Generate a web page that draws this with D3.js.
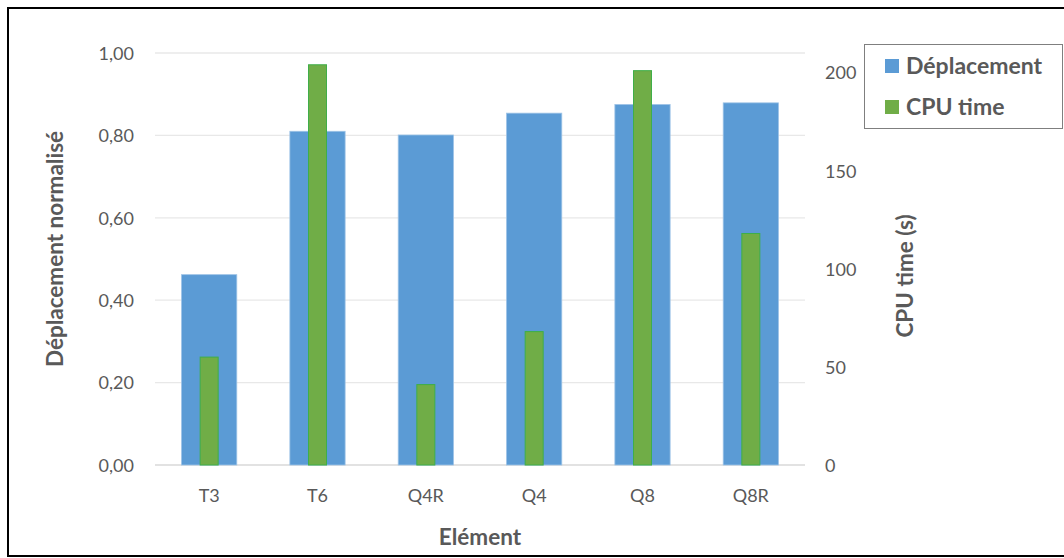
<!DOCTYPE html>
<html><head><meta charset="utf-8">
<script src="https://cdn.jsdelivr.net/npm/d3@7"></script>
<style>body{margin:0;background:#fff}text{font-family:Lato,"Open Sans",sans-serif}</style>
</head><body><svg id="c" width="1064" height="558"></svg>
<script>
const categories = ["T3","T6","Q4R","Q4","Q8","Q8R"];
const deplacement = [0.462, 0.810, 0.801, 0.854, 0.875, 0.879];
const cpuTime = [55, 204, 41, 68, 201, 118];
const leftTicks = [0,0.2,0.4,0.6,0.8,1.0];
const rightTicks = [0,50,100,150,200];
const seriesNames = ["Déplacement","CPU time"];

const svg = d3.select("#c");
const L=155, R=805, T=53, B=465;
svg.append("rect").attr("x",8).attr("y",8).attr("width",1062).attr("height",548).attr("fill","#fff").attr("stroke","#000").attr("stroke-width",2);

const x = d3.scaleBand().domain(categories).range([L,R]).paddingInner(0.49).paddingOuter(0.245);
const yL = d3.scaleLinear().domain([0,1]).range([B,T]);
const yR = d3.scaleLinear().domain([0,210]).range([B,T]);
const fmt = d=>d3.format(".2f")(d).replace(".",",");

// grid
svg.append("g").selectAll("line").data(leftTicks).join("line")
 .attr("x1",L).attr("x2",R).attr("y1",d=>yL(d)).attr("y2",d=>yL(d))
 .attr("stroke",d=>d===0?"#d9d9d9":"#e8e8e8").attr("stroke-width",1.3);

// left axis
const ga = svg.append("g").attr("transform",`translate(${L-21},0)`)
 .call(d3.axisLeft(yL).tickValues(leftTicks).tickFormat(fmt).tickSize(0).tickPadding(0));
ga.select(".domain").remove();
ga.selectAll("text").attr("fill","#595959").style("font-size","18px").attr("dy","0.35em");

const gr = svg.append("g").attr("transform",`translate(${R+20},0)`)
 .call(d3.axisRight(yR).tickValues(rightTicks).tickSize(0).tickPadding(0));
gr.select(".domain").remove();
gr.selectAll("text").attr("fill","#595959").style("font-size","18px").attr("dy","0.35em");

const gx = svg.append("g").attr("transform",`translate(0,${B+24})`)
 .call(d3.axisBottom(x).tickSize(0).tickPadding(0));
gx.select(".domain").remove();
gx.selectAll("text").attr("fill","#595959").style("font-size","18px").attr("dy","0.71em");

// bars
svg.append("g").selectAll("rect").data(deplacement).join("rect")
 .attr("x",(d,i)=>x(categories[i])).attr("width",x.bandwidth())
 .attr("y",d=>yL(d)).attr("height",d=>B-yL(d))
 .attr("fill","#5b9bd5").attr("stroke","#9dc3e6").attr("stroke-width",0.8);
const gw = 18;
svg.append("g").selectAll("rect").data(cpuTime).join("rect")
 .attr("x",(d,i)=>x(categories[i])+x.bandwidth()/2-gw/2).attr("width",gw)
 .attr("y",d=>yR(d)).attr("height",d=>B-yR(d))
 .attr("fill","#70ad47").attr("stroke","#3fae49").attr("stroke-width",1);

// axis titles
svg.append("text").attr("transform",`translate(55,249) rotate(-90)`).attr("text-anchor","middle").attr("dy","0.35em")
 .attr("fill","#595959").style("font-size","22.5px").style("font-weight","bold").text("Déplacement normalisé");
svg.append("text").attr("transform",`translate(905,276) rotate(-90)`).attr("text-anchor","middle").attr("dy","0.35em")
 .attr("fill","#595959").style("font-size","22.5px").style("font-weight","bold").text("CPU time (s)");
svg.append("text").attr("x",480).attr("y",545).attr("text-anchor","middle")
 .attr("fill","#595959").style("font-size","22.5px").style("font-weight","bold").text("Elément");

// legend
const lg = svg.append("g");
lg.append("rect").attr("x",864.5).attr("y",44.5).attr("width",198).attr("height",84).attr("fill","#fff").attr("stroke","#7f7f7f").attr("stroke-width",1);
const colors=["#5b9bd5","#70ad47"];
seriesNames.forEach((n,i)=>{
  const yy = 66 + i*41;
  lg.append("rect").attr("x",885).attr("y",yy-7).attr("width",14).attr("height",14).attr("fill",colors[i]);
  lg.append("text").attr("x",906).attr("y",yy).attr("dy","0.35em").attr("fill","#595959")
   .style("font-size","23px").style("font-weight","bold").text(n);
});
</script></body></html>
